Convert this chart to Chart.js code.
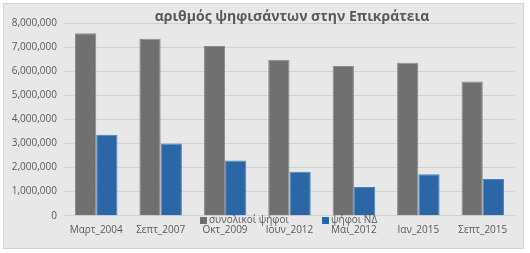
<!DOCTYPE html>
<html><head><meta charset="utf-8">
<script src="https://cdn.jsdelivr.net/npm/chart.js@4/dist/chart.umd.min.js"></script>
<style>
html,body{margin:0;padding:0;background:#fff;}
#box{position:absolute;left:3px;top:3px;width:519px;height:244px;background:#e8e8e8;border:1px solid #d4d4d4;}
#wrap{position:absolute;left:0;top:0;width:530px;height:253px;}
</style></head>
<body>
<div id="box"></div>
<div id="wrap"><canvas id="c" width="530" height="253"></canvas></div>
<script>
const chartTitle = "αριθμός ψηφισάντων στην Επικράτεια";
const categories = ["Μαρτ_2004","Σεπτ_2007","Οκτ_2009","Ιουν_2012","Μαι_2012","Ιαν_2015","Σεπτ_2015"];
const seriesNames = ["συνολικοί ψήφοι","ψήφοι ΝΔ"];
const totalVotes = [7570000, 7350000, 7040000, 6470000, 6220000, 6350000, 5570000];
const ndVotes = [3360000, 2995000, 2296000, 1825000, 1192000, 1719000, 1526000];
const yTicks = [0,1000000,2000000,3000000,4000000,5000000,6000000,7000000,8000000];

const colors = ["#707070","#2b67a6"];
const FONT = "'Open Sans', 'Liberation Sans', sans-serif";

const overlay = {
  id:'overlay',
  afterDraw(chart){
    const ctx = chart.ctx;
    ctx.save();
    ctx.font = "bold 14px " + FONT;
    ctx.fillStyle = "#595959";
    ctx.textAlign = "center";
    ctx.textBaseline = "middle";
    ctx.fillText(chartTitle, 292, 17);
    ctx.font = "10px " + FONT;
    ctx.textAlign = "left";
    const items = [[200, seriesNames[0]], [322, seriesNames[1]]];
    items.forEach((it, i) => {
      ctx.fillStyle = colors[i];
      ctx.fillRect(it[0], 217, 7, 7);
      ctx.fillStyle = "#595959";
      ctx.fillText(it[1], it[0] + 9, 220);
    });
    ctx.restore();
  }
};

new Chart(document.getElementById('c'), {
  type:'bar',
  data:{
    labels: categories,
    datasets:[
      {label:seriesNames[0], data:totalVotes, backgroundColor:colors[0], borderColor:"#8a8a8a", borderWidth:{top:1,left:1,right:1,bottom:0}},
      {label:seriesNames[1], data:ndVotes, backgroundColor:colors[1], borderColor:"#4a83c0", borderWidth:{top:1,left:1,right:1,bottom:0}}
    ]
  },
  options:{
    responsive:false,
    animation:false,
    layout:{padding:{left:0,right:15,top:23,bottom:0}},
    plugins:{legend:{display:false}, title:{display:false}, tooltip:{enabled:false}},
    datasets:{bar:{categoryPercentage:0.66, barPercentage:1}},
    scales:{
      x:{
        grid:{display:false, drawTicks:false},
        border:{display:true, color:"#d2d2d2"},
        ticks:{color:"#595959", font:{family:FONT, size:10}, padding:8, maxRotation:0, autoSkip:false},
        afterFit(s){ s.height = 37.3; }
      },
      y:{
        min:0, max:8000000,
        afterBuildTicks(s){ s.ticks = yTicks.map(v=>({value:v})); },
        grid:{color:"#d2d2d2", drawTicks:false, lineWidth:1},
        border:{display:false},
        ticks:{color:"#595959", font:{family:FONT, size:10}, padding:7,
          callback:(v)=> v.toLocaleString('en-US')},
        afterFit(s){ s.width = 64; }
      }
    }
  },
  plugins:[overlay]
});
</script>
</body></html>
